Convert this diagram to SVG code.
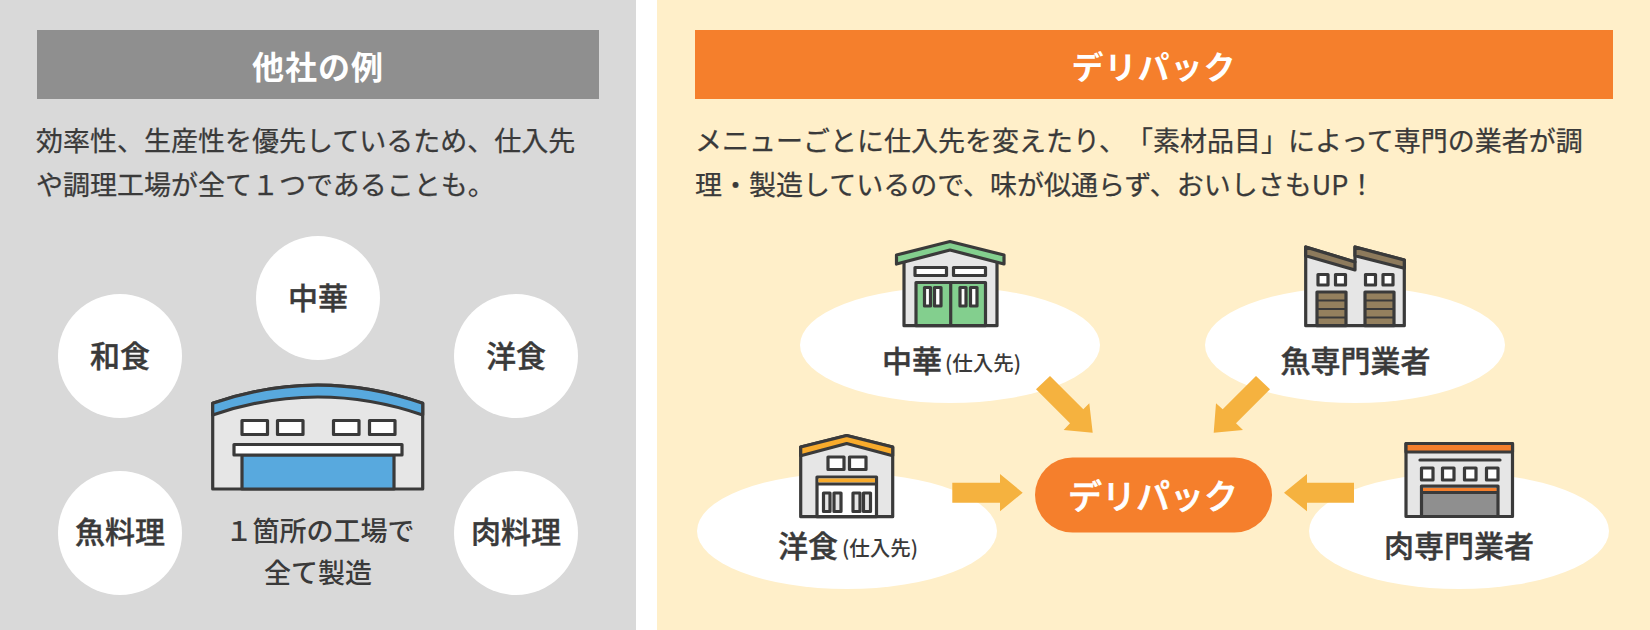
<svg xmlns="http://www.w3.org/2000/svg" width="1650" height="630" viewBox="0 0 1650 630">
<style>
text{font-family:"Noto Sans CJK JP","Noto Sans",sans-serif;fill:#3a3a3a;text-anchor:middle;text-spacing-trim:space-all}
.h{font-size:32px;font-weight:700;fill:#fff;letter-spacing:1px}
.b{font-size:27px;font-weight:400;text-anchor:start;stroke:#3a3a3a;stroke-width:.25}
.n{font-size:30px;font-weight:500;stroke:#3a3a3a;stroke-width:.4}
.c{font-size:27px;font-weight:500}
.s{font-size:20.500px;font-weight:500}
.k{stroke:#3a3a3a;stroke-width:3.200;stroke-linejoin:round}
.w{fill:#fff}.g{fill:#e6e6e6}
.a{fill:#f5b23f}
</style>
<rect width="636" height="630" fill="#d9d9d9"/>
<rect x="657" width="993" height="630" fill="#ffefc9"/>
<g id="left-header"><rect x="37" y="30" width="562" height="69" fill="#8f8f8f"/><text class="h" x="318" y="79">他社の例</text></g>
<g id="right-header"><rect x="695" y="30" width="918" height="69" fill="#f57f2c"/><text class="h" x="1154" y="79">デリパック</text></g>
<g id="left-copy"><text class="b" x="36" y="151">効率性、生産性を優先しているため、仕入先</text><text class="b" x="36" y="195">や調理工場が全て１つであることも。</text></g>
<g id="right-copy"><text class="b" x="695" y="151">メニューごとに仕入先を変えたり、「素材品目」によって専門の業者が調</text><text class="b" x="695" y="195">理・製造しているので、味が似通らず、おいしさもUP！</text></g>
<g id="node-chuka-circle"><circle class="w" cx="318" cy="298" r="62"/><text class="n" x="318" y="309">中華</text></g>
<g id="node-washoku"><circle class="w" cx="120" cy="356" r="62"/><text class="n" x="120" y="367">和食</text></g>
<g id="node-yoshoku-circle"><circle class="w" cx="516" cy="356" r="62"/><text class="n" x="516" y="367">洋食</text></g>
<g id="node-sakana"><circle class="w" cx="120" cy="533" r="62"/><text class="n" x="120" y="543">魚料理</text></g>
<g id="node-niku"><circle class="w" cx="516" cy="533" r="62"/><text class="n" x="516" y="543">肉料理</text></g>
<g id="factory-main">
<path class="k g" d="M212.700 403.300Q318 367 422.700 403.300V489H212.700Z"/>
<path class="k" fill="#58a9de" d="M212.700 403.300Q318 367 422.700 403.300V415Q318 379 212.700 415Z"/>
<rect class="k w" x="242" y="420.500" width="25.500" height="14"/><rect class="k w" x="277.500" y="420.500" width="25.500" height="14"/><rect class="k w" x="333.500" y="420.500" width="25.500" height="14"/><rect class="k w" x="369.500" y="420.500" width="25.500" height="14"/>
<rect class="k" fill="#58a9de" x="242" y="455" width="152" height="34"/>
<rect class="k w" x="234" y="444.500" width="168" height="10.500"/>
<text class="c" x="320" y="541">１箇所の工場で</text><text class="c" x="318" y="583">全て製造</text>
</g>
<g id="node-chuka"><ellipse class="w" cx="950" cy="345" rx="150" ry="58"/>
<path class="k g" d="M904 255L950 243L997 255V325.700H904Z"/>
<path class="k" fill="#83cf8e" d="M896.500 255L950 241.500L1004 255V264L950 250L896.500 264Z"/>
<rect class="k w" x="915" y="267.500" width="31.500" height="8"/><rect class="k w" x="953.500" y="267.500" width="32" height="8"/>
<rect class="k" fill="#83cf8e" x="916" y="282.500" width="69.500" height="43.200"/><path class="k" d="M950.700 282.500V325.700"/>
<g class="k w"><rect x="924.500" y="287.500" width="6" height="18.500"/><rect x="934.500" y="287.500" width="6.500" height="18.500"/><rect x="960" y="287.500" width="6" height="18.500"/><rect x="970.500" y="287.500" width="6.500" height="18.500"/></g>
<text class="n" x="912" y="372">中華</text><text class="s" x="983" y="371">(仕入先)</text></g>
<g id="node-fish"><ellipse class="w" cx="1355" cy="345" rx="150" ry="58"/>
<path class="k g" d="M1305.700 247V325.700H1404.300V260L1355 247V262Z"/>
<path class="k" fill="#8d7a5c" d="M1305.700 247L1355 262V270L1305.700 255.700Z"/><path class="k" fill="#8d7a5c" d="M1355 247L1404.300 260V268.300L1355 255.700Z"/>
<g class="k w"><rect x="1318" y="274.500" width="10" height="10.500"/><rect x="1335.500" y="274.500" width="10" height="10.500"/><rect x="1365.500" y="274.500" width="10" height="10.500"/><rect x="1383" y="274.500" width="10" height="10.500"/></g>
<g class="k" fill="#94805e"><rect x="1317" y="292" width="29" height="33.700"/><rect x="1365" y="292" width="29" height="33.700"/></g>
<path class="k" style="stroke-width:2.200" d="M1318 300.500H1345M1318 309H1345M1318 317.500H1345M1366 300.500H1393M1366 309H1393M1366 317.500H1393"/>
<text class="n" x="1355.500" y="372">魚専門業者</text></g>
<g id="node-yoshoku"><ellipse class="w" cx="847" cy="531" rx="150" ry="58"/>
<path class="k g" d="M800.700 447L846.700 435.500L892.700 447V516.700H800.700Z"/>
<path class="k" fill="#f8ab2c" d="M800.700 447L846.700 435.500L892.700 447V455.700L846.700 443.500L800.700 455.700Z"/>
<rect class="k w" x="828" y="457" width="16" height="12.500"/><rect class="k w" x="849.500" y="457" width="16.500" height="12.500"/>
<rect class="k w" x="817" y="477" width="59.500" height="39.700"/><rect fill="#f8ab2c" x="818.500" y="478.500" width="56.500" height="4"/><path class="k" d="M817 484H876.500"/>
<g class="k g"><rect x="823.500" y="493" width="6.500" height="18.500"/><rect x="834" y="493" width="7" height="18.500"/><rect x="853" y="493" width="7" height="18.500"/><rect x="863.500" y="493" width="7" height="18.500"/></g>
<text class="n" x="808" y="557">洋食</text><text class="s" x="880" y="556">(仕入先)</text></g>
<g id="node-meat"><ellipse class="w" cx="1459" cy="531" rx="150" ry="58"/>
<rect class="k g" x="1406" y="443.500" width="106.500" height="73"/><rect class="k" fill="#f57f2c" x="1406" y="443.500" width="106.500" height="8.500"/>
<path class="k" stroke-linecap="round" d="M1420 460H1500"/>
<g class="k w"><rect x="1421.500" y="468" width="11.500" height="12"/><rect x="1442.500" y="468" width="11.500" height="12"/><rect x="1464.500" y="468" width="11.500" height="12"/><rect x="1486.500" y="468" width="11.500" height="12"/></g>
<rect class="k" fill="#8f8f8f" x="1421.500" y="486" width="76.500" height="30.500"/><rect fill="#f57f2c" x="1423" y="488" width="73.500" height="3"/><path class="k" d="M1421.500 492.500H1498"/>
<text class="n" x="1459" y="557">肉専門業者</text></g>
<g id="connectors">
<polygon class="a" points="1036,389.300 1050,376 1083.300,409.300 1089.300,403.300 1092.700,432.700 1063.700,430 1070,423.300"/>
<polygon class="a" points="1270,389.300 1256,376 1222.700,409.300 1216,403.300 1213.700,432.700 1243,430 1236,423.300"/>
<polygon class="a" points="952.300,482.700 1000,482.700 1000,474 1022.700,492.700 1000,511.300 1000,502.700 952.300,502.700"/>
<polygon class="a" points="1354,482.700 1307,482.700 1307,474 1284,492.700 1307,511.300 1307,502.700 1354,502.700"/>
</g>
<g id="node-delipack"><rect x="1035" y="457.500" width="237" height="75" rx="37.500" fill="#f57f2c"/><text x="1153" y="509" style="font-size:34px;font-weight:500;fill:#fff;stroke:#fff;stroke-width:.7;stroke-linejoin:round">デリパック</text></g>
</svg>
